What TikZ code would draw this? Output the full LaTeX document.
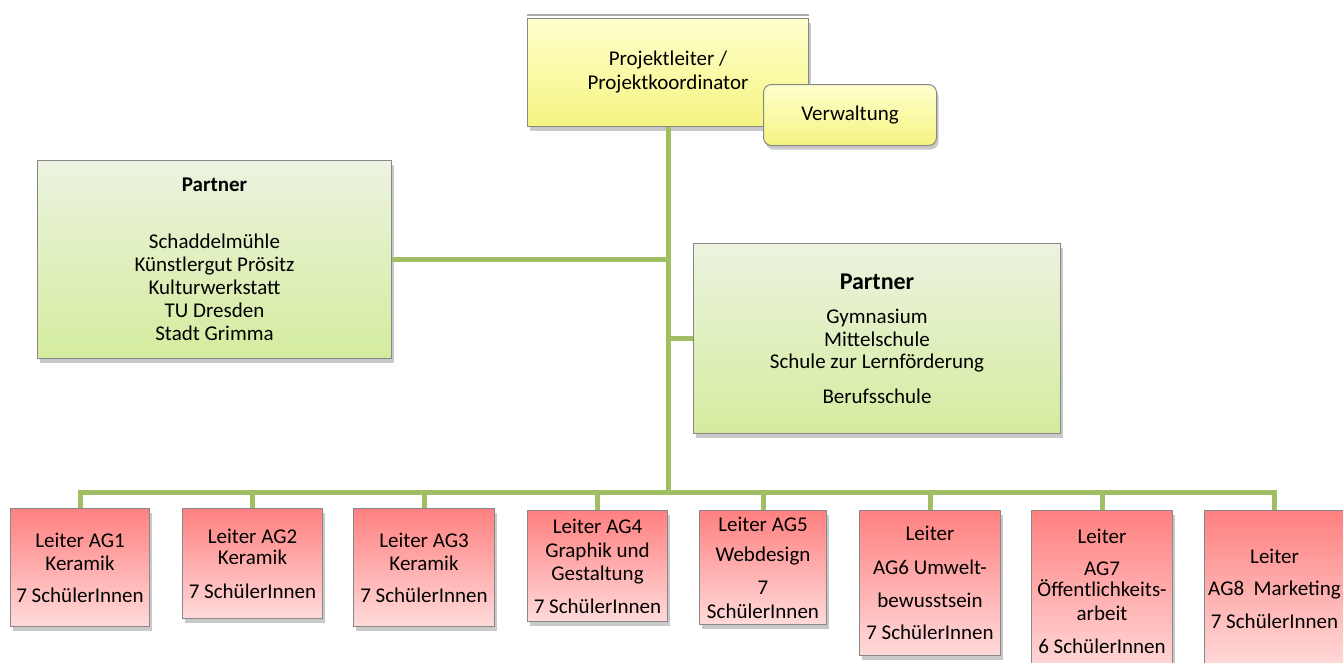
\documentclass[tikz,border=0pt]{standalone}
\usepackage{fontspec}
\setmainfont{Carlito}
\usetikzlibrary{shadows}
\definecolor{conngreen}{RGB}{160,190,100}
\definecolor{boxgray}{RGB}{135,135,135}
\definecolor{ytop}{RGB}{255,255,205}
\definecolor{ybot}{RGB}{244,244,130}
\definecolor{gtop}{RGB}{236,243,224}
\definecolor{gbot}{RGB}{212,236,158}
\definecolor{rtop}{RGB}{255,128,128}
\definecolor{rbot}{RGB}{255,218,218}
\begin{document}
\begin{tikzpicture}[x=1pt,y=-1pt,font=\fontsize{21}{23}\selectfont,
	box/.style={draw=boxgray,line width=1pt,anchor=north west,inner sep=0pt,align=center,
	  drop shadow={shadow xshift=2pt,shadow yshift=-4pt,opacity=0.3,fill=black!70}},
	leitbox/.style={box,top color=ytop,bottom color=ybot},
	partbox/.style={box,top color=gtop,bottom color=gbot},
	agbox/.style={box,top color=rtop,bottom color=rbot},
	conn/.style={conngreen,line width=5pt}]
	\useasboundingbox (0,0) rectangle (1343,662); %page
	
	%top
	\node[leitbox,minimum width=281pt,minimum height=108pt] (pl) at (527,18)
	  {Projektleiter /\\[1pt]Projektkoordinator};
	\draw[boxgray!70,line width=1.5pt] ([yshift=3pt]pl.north west) -- ([yshift=3pt]pl.north east); %top edge
	
	%partner
	\node[partbox,minimum width=354pt,minimum height=198pt] (ppl) at (37,160)
	  {\textbf{Partner}\\[34pt]Schaddelmühle\\Künstlergut Prösitz\\Kulturwerkstatt\\TU Dresden\\Stadt Grimma};
	\node[partbox,minimum width=367pt,minimum height=190pt] (ppr) at (693,243)
	  {{\fontsize{24}{23}\selectfont\textbf{Partner}}\\[11pt]Gymnasium\\Mittelschule\\[-1pt]Schule zur Lernförderung\\[12pt]Berufsschule};
	
	%AG leaders
	\node[agbox,minimum width=139pt,minimum height=118pt] (ag1) at (10,508)
	  {Leiter AG1\\Keramik\\[9pt]7 SchülerInnen};
	\node[agbox,minimum width=140pt,minimum height=110pt] (ag2) at (182,508)
	  {Leiter AG2\\[-2pt]Keramik\\[11pt]7 SchülerInnen};
	\node[agbox,minimum width=141pt,minimum height=118pt] (ag3) at (353,508)
	  {Leiter AG3\\Keramik\\[9pt]7 SchülerInnen};
	\node[agbox,minimum width=140pt,minimum height=111pt] (ag4) at (527,510)
	  {Leiter AG4\\[1pt]Graphik und\\Gestaltung\\[10pt]7 SchülerInnen};
	\node[agbox,minimum width=127pt,minimum height=114pt] (ag5) at (699,510)
	  {Leiter AG5\\[7pt]Webdesign\\[10pt]7\\[1pt]SchülerInnen};
	\node[agbox,minimum width=141pt,minimum height=145pt] (ag6) at (859,510)
	  {Leiter\\[11pt]AG6 Umwelt-\\[10pt]bewusstsein\\[9pt]7 SchülerInnen};
	\node[agbox,minimum width=141pt,minimum height=162pt] (ag7) at (1031,510)
	  {Leiter\\[9pt]AG7\\[-2pt]Öffentlichkeits-\\[1pt]arbeit\\[10pt]6 SchülerInnen};
	\node[agbox,minimum width=140pt,minimum height=157pt] (ag8) at (1204,510)
	  {Leiter\\[9pt]AG8\ \ Marketing\\[10pt]7 SchülerInnen};
	
	%lines
	\coordinate (bus) at (pl.south |- 0,492);
	\draw[conn] (pl.south) -- (bus); %trunk
	\draw[conn] (ppl.east) -- (ppl.east -| pl.south);
	\draw[conn] (ppr.west) -- (ppr.west -| pl.south);
	\foreach \i in {1,...,8}
	  \draw[conn] (bus) -| (ag\i.north);
	
	%admin
	\node[leitbox,rounded corners=8pt,minimum width=173pt,minimum height=61pt] (verw) at (763,84) {Verwaltung};
	
\end{tikzpicture}
\end{document}
